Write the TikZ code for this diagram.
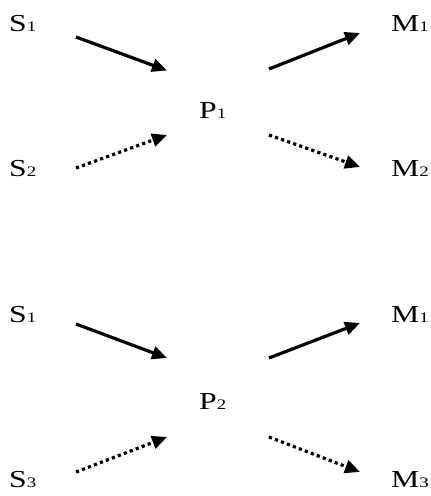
\documentclass[tikz,border=0pt]{standalone}
\usepackage{fontspec}
\setmainfont{Liberation Serif}
\usetikzlibrary{arrows.meta}
\newcommand{\smallsub}[1]{{\fontsize{14.5}{14.5}\selectfont #1}}
\newcommand{\lab}[2]{\scalebox{1.3}[1]{#1\smallsub{#2}}}
\tikzset{
  lbl/.style={anchor=base west, inner sep=0pt, font=\fontsize{24.4}{24.4}\selectfont},
  arr/.style={line width=3.2pt, -{Triangle[length=15pt,width=13pt]}},
  solidarr/.style={arr},
  dotarr/.style={arr, dash pattern=on 3.2pt off 3.2pt},
}
\begin{document}
\begin{tikzpicture}[x=1pt,y=-1pt]
\useasboundingbox (0,0) rectangle (431,496);
% top
\node[lbl] (s1a) at (9,31.7) {\lab{S}{1}};
\node[lbl] (m1a) at (391,31.7) {\lab{M}{1}};
\node[lbl] (p1) at (199,118) {\lab{P}{1}};
\node[lbl] (s2) at (9,176.5) {\lab{S}{2}};
\node[lbl] (m2) at (391,176.5) {\lab{M}{2}};
\coordinate (a1s) at (76,37); \coordinate (a1e) at (167,70.5);
\coordinate (a2s) at (269,69); \coordinate (a2e) at (360,33);
\coordinate (a3s) at (76,168); \coordinate (a3e) at (167,135);
\coordinate (a4s) at (269,135); \coordinate (a4e) at (360,167);
\draw[solidarr] (a1s) -- (a1e);
\draw[solidarr] (a2s) -- (a2e);
\draw[dotarr] (a3s) -- (a3e);
\draw[dotarr] (a4s) -- (a4e);
% bottom
\node[lbl] (s1b) at (9,322) {\lab{S}{1}};
\node[lbl] (m1b) at (391,322) {\lab{M}{1}};
\node[lbl] (p2) at (199,409) {\lab{P}{2}};
\node[lbl] (s3) at (9,487) {\lab{S}{3}};
\node[lbl] (m3) at (391,487) {\lab{M}{3}};
\coordinate (b1s) at (76,324); \coordinate (b1e) at (167,358);
\coordinate (b2s) at (269,358); \coordinate (b2e) at (360,323);
\coordinate (b3s) at (76,472); \coordinate (b3e) at (167,437);
\coordinate (b4s) at (269,437); \coordinate (b4e) at (360,472);
\draw[solidarr] (b1s) -- (b1e);
\draw[solidarr] (b2s) -- (b2e);
\draw[dotarr] (b3s) -- (b3e);
\draw[dotarr] (b4s) -- (b4e);
\end{tikzpicture}
\end{document}
